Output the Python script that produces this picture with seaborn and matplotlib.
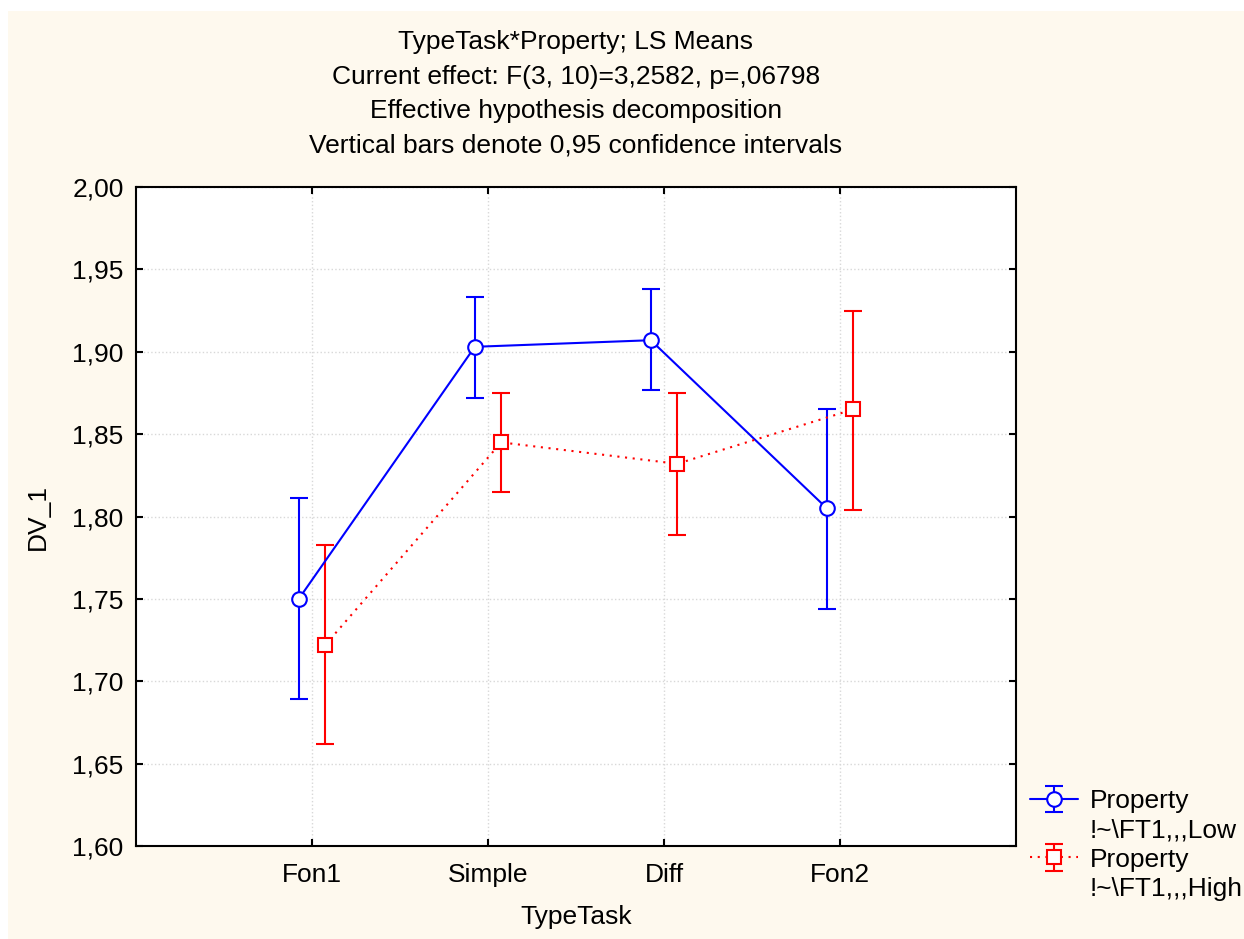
import matplotlib
matplotlib.use('Agg')

import matplotlib.pyplot as plt
from matplotlib.lines import Line2D
from matplotlib.patches import Rectangle
import pandas as pd
import seaborn as sns


#----------------------------------------------------------------------------------------------------
type_task  = ['Fon1', 'Simple', 'Diff', 'Fon2']

low_mean   = [1.750, 1.903, 1.907, 1.805]
low_lower  = [1.689, 1.872, 1.877, 1.744]
low_upper  = [1.811, 1.933, 1.938, 1.865]

high_mean  = [1.722, 1.845, 1.832, 1.865]
high_lower = [1.662, 1.815, 1.789, 1.804]
high_upper = [1.783, 1.875, 1.875, 1.925]

label_lines = [['Property', '!~\\FT1,,,Low'], ['Property', '!~\\FT1,,,High']]

title_lines = [
    'TypeTask*Property; LS Means',
    'Current effect: F(3, 10)=3,2582, p=,06798',
    'Effective hypothesis decomposition',
    'Vertical bars denote 0,95 confidence intervals',
]

y_ticks = [1.60, 1.65, 1.70, 1.75, 1.80, 1.85, 1.90, 1.95, 2.00]


#----------------------------------------------------------------------------------------------------
sns.set_style('white')
plt.rcParams['font.family'] = ['Liberation Sans', 'DejaVu Sans']
plt.rcParams['text.color'] = 'black'
plt.rcParams['axes.labelcolor'] = 'black'
FS = 19

colors  = {'Low': '#0000FF', 'High': '#FF0000'}
offsets = {'Low': -0.075, 'High': 0.075}
markers = {'Low': 'o', 'High': 's'}

rows = []
for name, mean, lo, hi in [('Low', low_mean, low_lower, low_upper),
                           ('High', high_mean, high_lower, high_upper)]:
    for i, t in enumerate(type_task):
        rows.append({'Property': name, 'TypeTask': t, 'pos': i + 1 + offsets[name],
                     'mean': mean[i], 'lower': lo[i], 'upper': hi[i]})
df = pd.DataFrame(rows)


#----------------------------------------------------------------------------------------------------
fig = plt.figure(figsize=(12.44, 9.39), dpi=100, facecolor='white')
fig.patches.append(Rectangle((8 / 1244, 0), 1, 1 - 11 / 939, transform=fig.transFigure,
                             facecolor='#FEF9EE', edgecolor='none', zorder=-10))

ax = fig.add_axes([136 / 1244, 93 / 939, 880 / 1244, 659 / 939])
ax.set_facecolor('white')

err_handles = {}
for name in ['Low', 'High']:
    sub = df[df['Property'] == name]
    err_handles[name] = ax.errorbar(
        sub['pos'], sub['mean'],
        yerr=[sub['mean'] - sub['lower'], sub['upper'] - sub['mean']],
        fmt='none', ecolor=colors[name], elinewidth=1.5,
        capsize=6.5, capthick=1.5, zorder=2
        )

sns.lineplot(
    data      = df,
    x         = 'pos',
    y         = 'mean',
    hue       = 'Property',
    style     = 'Property',
    palette   = colors,
    markers   = markers,
    dashes    = {'Low': '', 'High': (1, 2.7)},
    linewidth = 1.5,
    markersize = 10.5,
    markerfacecolor = 'white',
    markeredgewidth = 1.5,
    legend    = False,
    sort      = False,
    ax        = ax,
    zorder    = 3
    )

line_handles = {}
for line, name in zip(ax.lines[-2:], ['Low', 'High']):
    line.set_markeredgecolor(line.get_color())
    line_handles[name] = line


#----------------------------------------------------------------------------------------------------
ax.set_xlim(0, 5)
ax.set_ylim(1.60, 2.00)
ax.set_xticks(range(1, 5))
ax.set_xticklabels(type_task)
ax.set_yticks(y_ticks)
ax.set_yticklabels([f'{v:.2f}'.replace('.', ',') for v in y_ticks])
ax.tick_params(direction='in', length=5, width=1.5, labelsize=FS,
               top=True, right=True, left=True, bottom=True,
               colors='black', labelcolor='black')
ax.tick_params(axis='y', pad=9)
ax.tick_params(axis='x', pad=12)
ax.grid(True, linestyle=':', color='#D8D8D8', linewidth=1)

for s in ax.spines.values():
    s.set_color('black')
    s.set_linewidth(1.5)

ax.set_xlabel('TypeTask', fontsize=FS)
ax.set_ylabel('DV_1', fontsize=FS)
ax.xaxis.set_label_coords(0.5, -0.09)
ax.yaxis.set_label_coords(-0.098, 0.5)

title_y = [42, 77, 111, 146]
for text, y in zip(title_lines, title_y):
    fig.text(576 / 1244, 1 - y / 939, text, ha='center', va='center', fontsize=FS)

blank = Line2D([], [], linestyle='none', marker='none')
handles, labels = [], []
for n, lines in zip(['Low', 'High'], label_lines):
    handles += [(err_handles[n], line_handles[n]), blank]
    labels  += lines

fig.legend(
    handles = handles,
    labels  = labels,
    loc     = 'upper left',
    bbox_to_anchor = (1030 / 1244, 1 - 789 / 939),
    frameon = False,
    fontsize = FS,
    handlelength = 1.8,
    handletextpad = 0.45,
    labelspacing = 0.2,
    borderaxespad = 0,
    borderpad = 0
    )

plt.savefig('out.png', dpi=100, facecolor=fig.get_facecolor())
